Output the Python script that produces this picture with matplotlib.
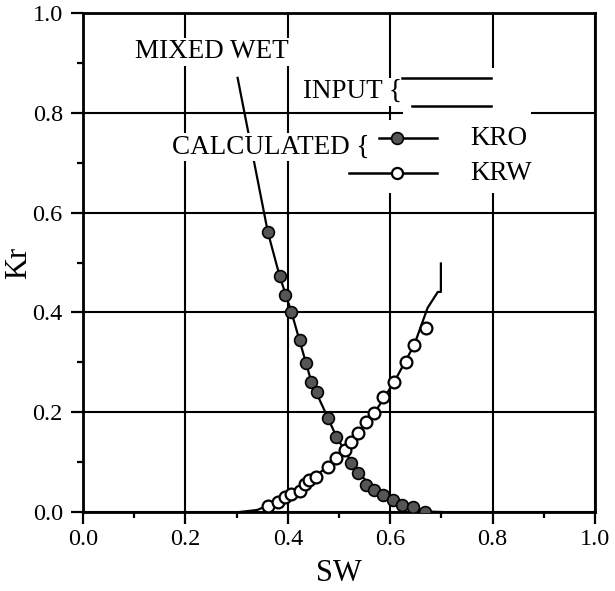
import matplotlib
matplotlib.use("Agg")
import matplotlib.pyplot as plt
from matplotlib.patches import Rectangle

plt.rcParams['font.family'] = 'serif'
plt.rcParams['font.serif'] = ['Liberation Serif', 'DejaVu Serif']

# Calculated KRO (filled markers)
kro_sw = [0.361, 0.384, 0.394, 0.407, 0.423, 0.435, 0.446, 0.457, 0.478, 0.495,
          0.524, 0.537, 0.553, 0.569, 0.585, 0.605, 0.624, 0.644, 0.667]
kro = [0.561, 0.473, 0.435, 0.401, 0.345, 0.298, 0.261, 0.241, 0.188, 0.151,
       0.098, 0.078, 0.054, 0.044, 0.034, 0.024, 0.014, 0.011, 0.001]

# Calculated KRW (open markers)
krw_sw = [0.361, 0.381, 0.394, 0.407, 0.423, 0.433, 0.442, 0.455, 0.478, 0.495,
          0.511, 0.524, 0.537, 0.553, 0.569, 0.585, 0.608, 0.630, 0.647, 0.670]
krw = [0.013, 0.021, 0.031, 0.037, 0.042, 0.056, 0.064, 0.071, 0.091, 0.108,
       0.124, 0.141, 0.158, 0.181, 0.198, 0.231, 0.261, 0.301, 0.335, 0.368]

# Input curves (lines)
in_kro_sw = [0.302, 0.361, 0.384, 0.407, 0.446, 0.495, 0.537, 0.585, 0.624, 0.667, 0.700]
in_kro = [0.870, 0.561, 0.473, 0.401, 0.261, 0.151, 0.078, 0.034, 0.014, 0.001, 0.0]
in_krw_sw = [0.306, 0.340, 0.361, 0.394, 0.433, 0.478, 0.524, 0.569, 0.608, 0.647, 0.673, 0.683, 0.693, 0.699, 0.699]
in_krw = [0.0, 0.004, 0.013, 0.031, 0.056, 0.091, 0.141, 0.198, 0.261, 0.335, 0.409, 0.425, 0.441, 0.441, 0.498]

xticks = [0.0, 0.2, 0.4, 0.6, 0.8, 1.0]
yticks = [0.0, 0.2, 0.4, 0.6, 0.8, 1.0]

fig = plt.figure(figsize=(6.15, 5.91), dpi=100)
ax = fig.add_axes([83/615, 79/591, 512/615, 499/591])
ax.set_xlim(0, 1)
ax.set_ylim(0, 1)
ax.set_xticks(xticks)
ax.set_yticks(yticks)
ax.set_xticklabels([f"{v:.1f}" for v in xticks])
ax.set_yticklabels([f"{v:.1f}" for v in yticks])
ax.set_xticks([0.1, 0.3, 0.5, 0.7, 0.9], minor=True)
ax.set_yticks([0.1, 0.3, 0.5, 0.7, 0.9], minor=True)
ax.tick_params(which='major', direction='out', length=8.5, width=1.6, labelsize=17.5, pad=4)
ax.tick_params(axis='y', which='major', pad=6)
ax.tick_params(which='minor', direction='out', length=4.5, width=1.6)
for s in ax.spines.values():
    s.set_linewidth(2.0)
ax.grid(True, which='major', color='black', linewidth=1.5)
ax.set_axisbelow(True)

ax.set_xlabel("SW", fontsize=22, labelpad=6)
ax.set_ylabel("Kr", fontsize=22)
ax.yaxis.set_label_coords(-0.098, 0.5)

# white patches covering legend area
ax.add_patch(Rectangle((0.625, 0.64), 0.25, 0.25, facecolor='white', edgecolor='none', zorder=1.5))
ax.add_patch(Rectangle((0.58, 0.64), 0.05, 0.145, facecolor='white', edgecolor='none', zorder=1.5))

ax.plot(in_kro_sw, in_kro, color='black', lw=1.6, zorder=2)
ax.plot(in_krw_sw, in_krw, color='black', lw=1.6, zorder=2)
ax.plot(kro_sw, kro, 'o', color='#555555', mec='black', mew=1.2, ms=8.5, zorder=3)
ax.plot(krw_sw, krw, 'o', color='white', mec='black', mew=1.6, ms=8.5, zorder=3)

wb = dict(facecolor='white', edgecolor='none', pad=1)
ax.text(0.101, 0.922, "MIXED WET", fontsize=19.5, ha='left', va='center', bbox=wb, zorder=4)
ax.text(0.624, 0.842, "INPUT {", fontsize=19.5, ha='right', va='center', bbox=wb, zorder=4)
ax.text(0.559, 0.731, "CALCULATED {", fontsize=19.5, ha='right', va='center', bbox=wb, zorder=4)

# legend lines
ax.plot([0.623, 0.797], [0.870, 0.870], color='black', lw=1.8, zorder=4)
ax.plot([0.643, 0.797], [0.814, 0.814], color='black', lw=1.8, zorder=4)
ax.plot([0.579, 0.692], [0.749, 0.749], color='black', lw=1.8, zorder=4)
ax.plot([0.614], [0.749], 'o', color='#555555', mec='black', mew=1.2, ms=8.5, zorder=5)
ax.plot([0.520, 0.692], [0.679, 0.679], color='black', lw=1.8, zorder=4)
ax.plot([0.614], [0.679], 'o', color='white', mec='black', mew=1.6, ms=8, zorder=5)
ax.text(0.757, 0.749, "KRO", fontsize=19.5, ha='left', va='center', zorder=4)
ax.text(0.757, 0.679, "KRW", fontsize=19.5, ha='left', va='center', zorder=4)

fig.savefig("out.png", dpi=100)
